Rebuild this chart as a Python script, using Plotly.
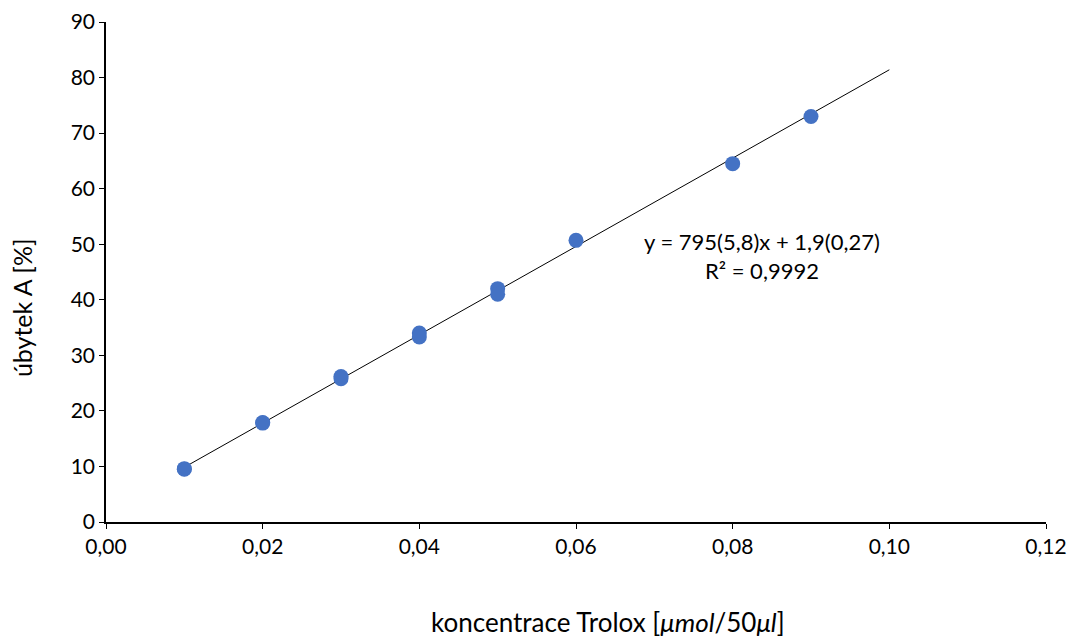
import plotly.graph_objects as go

conc = [0.01, 0.01, 0.02, 0.02, 0.03, 0.03, 0.04, 0.04, 0.05, 0.05, 0.06, 0.08, 0.09]
decrease = [9.6, 9.5, 17.9, 17.8, 26.2, 25.8, 34.0, 33.3, 42.0, 41.0, 50.7, 64.5, 73.0]
slope = 795
intercept = 1.9
fit_x = [0.01, 0.10]
fit_y = [slope * v + intercept for v in fit_x]
x_ticks = [0, 0.02, 0.04, 0.06, 0.08, 0.10, 0.12]
x_tick_labels = ["0,00", "0,02", "0,04", "0,06", "0,08", "0,10", "0,12"]
y_ticks = list(range(0, 91, 10))

font = "Lato, 'Liberation Sans', sans-serif"

fig = go.Figure()
fig.add_trace(go.Scatter(x=fit_x, y=fit_y, mode="lines",
                         line=dict(color="black", width=1), showlegend=False))
fig.add_trace(go.Scatter(x=conc, y=decrease, mode="markers",
                         marker=dict(color="#4472C4", size=15), showlegend=False))

fig.add_annotation(x=0.0837, y=47.8, xref="x", yref="y",
                   text="y = 795(5,8)x + 1,9(0,27)<br>R² = 0,9992",
                   showarrow=False, align="center",
                   font=dict(family=font, size=22, color="black"))

# axis titles (placed as in the reference)
fig.add_annotation(x=0.0641, y=0, xref="x", yref="paper",
                   xanchor="center", yanchor="middle", yshift=-100,
                   text="koncentrace Trolox [<i>μmol</i>/50<i>μl</i>]",
                   showarrow=False, font=dict(family=font, size=26, color="black"))
fig.add_annotation(x=0, y=38.5, xref="paper", yref="y",
                   xanchor="center", yanchor="middle", xshift=-84,
                   textangle=-90, text="úbytek A [%]",
                   showarrow=False, font=dict(family=font, size=25, color="black"))

fig.update_layout(
    width=1070, height=637,
    margin=dict(l=106, r=24, t=22, b=115),
    paper_bgcolor="white", plot_bgcolor="white",
    font=dict(family=font, size=21, color="black"),
    xaxis=dict(range=[0, 0.12], tickvals=x_ticks, ticktext=x_tick_labels,
               showgrid=False, zeroline=False, showline=True, linecolor="black",
               linewidth=1.5, ticks="outside", ticklen=5, tickcolor="black",
               automargin=False),
    yaxis=dict(range=[0, 90], tickvals=y_ticks,
               showgrid=False, zeroline=False, showline=True, linecolor="black",
               linewidth=1.5, ticks="outside", ticklen=5, tickcolor="black",
               automargin=False),
)

fig.write_html(
    "out.html",
    config={"displayModeBar": False},
    post_script="document.body.style.margin='0';document.body.style.overflow='hidden';",
)
